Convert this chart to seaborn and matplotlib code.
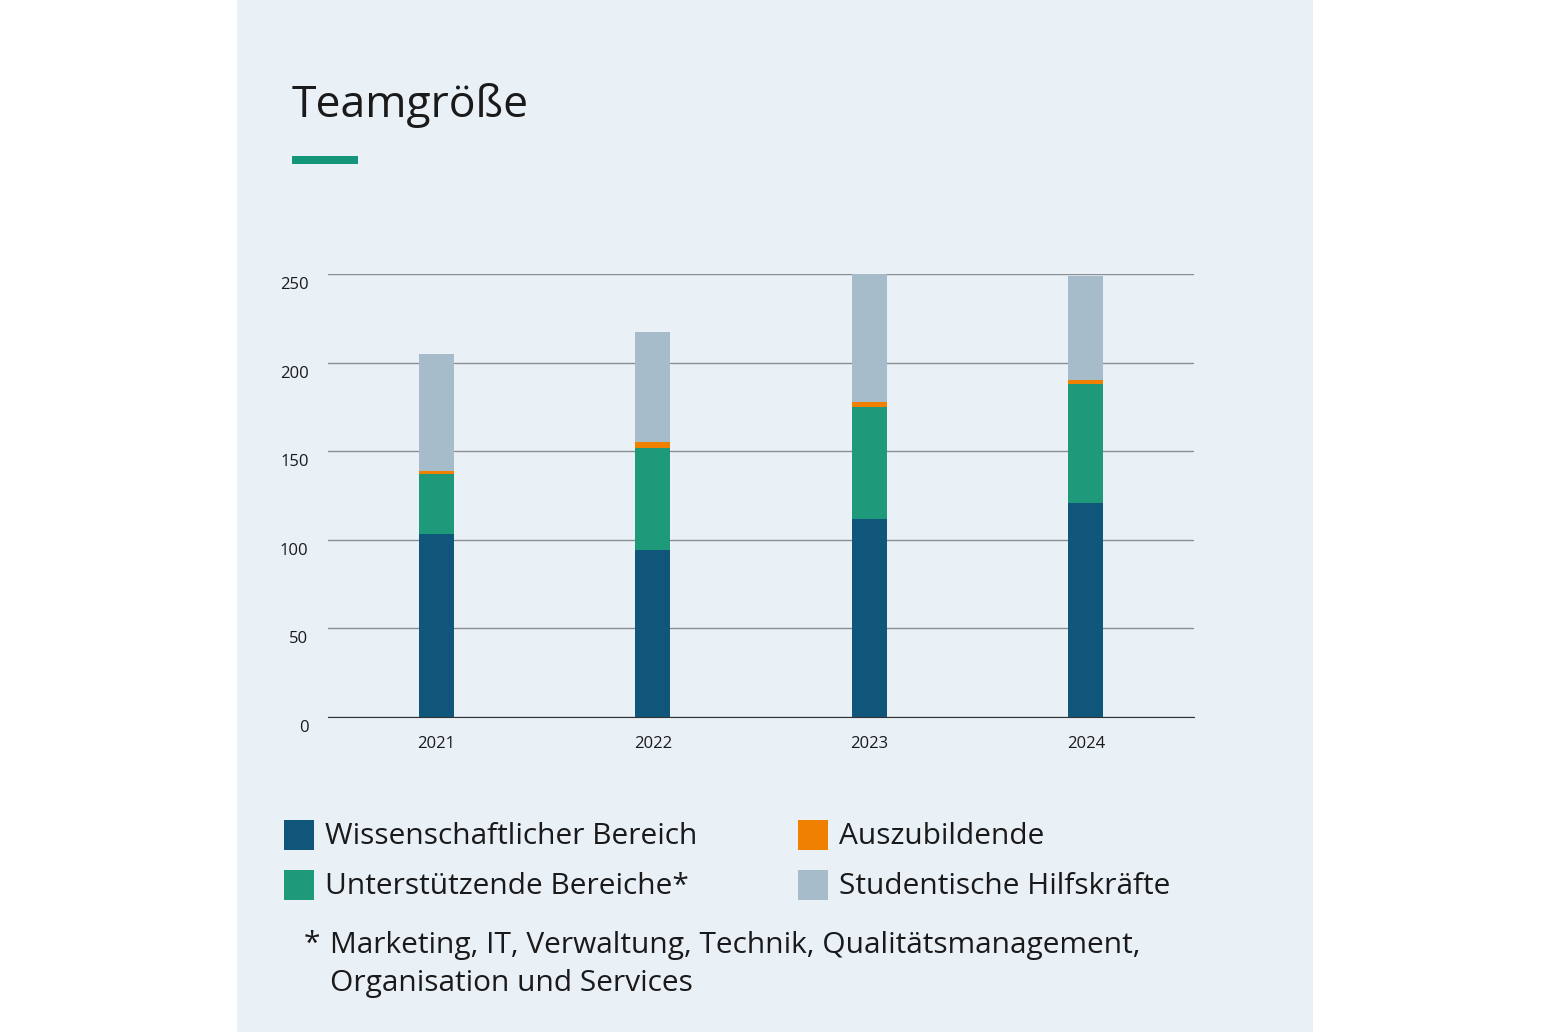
import matplotlib.pyplot as plt
import matplotlib.patches as mpatches
import matplotlib.transforms as mtrans
import pandas as pd
import seaborn as sns

years = ["2021", "2022", "2023", "2024"]
wissenschaft = [103, 94, 112, 121]
unterstuetzend = [34, 58, 63, 67]
azubis = [2, 3, 3, 2]
studentisch = [66, 62, 74, 59]

series_names = ["Wissenschaftlicher Bereich", "Unterstützende Bereiche*", "Auszubildende", "Studentische Hilfskräfte"]
series_values = [wissenschaft, unterstuetzend, azubis, studentisch]
colors = ["#10557a", "#1e9a7a", "#f08000", "#a7bccb"]

W, H = 1548, 1032
FONT = "Open Sans"
plt.rcParams["font.family"] = FONT

fig = plt.figure(figsize=(W / 100, H / 100), dpi=100, facecolor="white")
# light panel
fig.patches.append(mpatches.Rectangle((237 / W, 0), (1313 - 237) / W, 1, transform=fig.transFigure,
                                      facecolor="#e9f0f6", edgecolor="none", zorder=-5))
fig.text(292 / W, 1 - 105 / H, "Teamgröße", fontsize=32, va="center", ha="left", color="#1a1a1a")
fig.patches.append(mpatches.Rectangle((292 / W, 1 - 164 / H), 66 / W, 8 / H, transform=fig.transFigure,
                                      facecolor="#14967a", edgecolor="none"))

ax = fig.add_axes([328 / W, 1 - 717 / H, (1194 - 328) / W, (717 - 274) / H])
ax.set_zorder(5)
ax.set_facecolor("none")

df = pd.DataFrame({"year": years})
bottom = [0] * len(years)
for name, vals, c in zip(series_names, series_values, colors):
    df["v"] = vals
    sns.barplot(data=df, x="year", y="v", ax=ax, color=c, width=0.16, bottom=bottom,
                saturation=1, zorder=3)
    bottom = [b + v for b, v in zip(bottom, vals)]

ax.set_ylim(0, 250)
ax.set_xlim(-0.5, 3.5)
ax.set_yticks(range(0, 251, 50))
ax.set_axisbelow(True)
ax.grid(axis="y", color="#8a8f94", linewidth=1)
ax.grid(axis="x", visible=False)
for s in ["top", "right", "left"]:
    ax.spines[s].set_visible(False)
ax.spines["bottom"].set_color("#333333")
ax.tick_params(length=0, labelsize=12, colors="#1a1a1a")
ax.tick_params(axis="y", pad=14)
ax.tick_params(axis="x", pad=14)
ax.set_xlabel("")
ax.set_ylabel("")
off = mtrans.ScaledTranslation(0, -9 / 100, fig.dpi_scale_trans)
for lbl in ax.get_yticklabels():
    lbl.set_transform(lbl.get_transform() + off)

# legend
pos = [(284, 835), (284, 885), (798, 835), (798, 885)]
for (x, y), name, c in zip(pos, series_names, colors):
    fig.patches.append(mpatches.Rectangle((x / W, 1 - (y + 15) / H), 30 / W, 30 / H,
                                          transform=fig.transFigure, facecolor=c, edgecolor="none"))
    fig.text((x + 41) / W, 1 - (y + 2) / H, name, fontsize=21.5, va="center", ha="left", color="#1a1a1a")
fig.text(304 / W, 1 - 944 / H, "*", fontsize=21.5, va="center", ha="left", color="#1a1a1a")
fig.text(330 / W, 1 - 946 / H, "Marketing, IT, Verwaltung, Technik, Qualitätsmanagement,",
         fontsize=21.5, va="center", ha="left", color="#1a1a1a")
fig.text(330 / W, 1 - 984 / H, "Organisation und Services", fontsize=21.5, va="center", ha="left", color="#1a1a1a")

fig.savefig("out.png", dpi=100, facecolor="white")
